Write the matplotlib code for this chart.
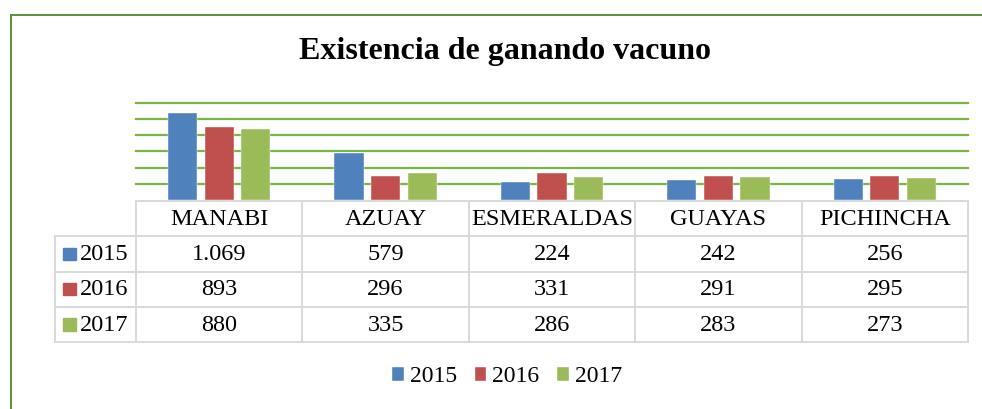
import numpy as np
import matplotlib.pyplot as plt
from matplotlib.patches import Rectangle
from matplotlib.lines import Line2D

plt.rcParams['font.family'] = ['Liberation Serif', 'DejaVu Serif']

# data
provincias = ['MANABI', 'AZUAY', 'ESMERALDAS', 'GUAYAS', 'PICHINCHA']
anios = ['2015', '2016', '2017']
v2015 = [1069, 579, 224, 242, 256]
v2016 = [893, 296, 331, 291, 295]
v2017 = [880, 335, 286, 283, 273]
series = [v2015, v2016, v2017]
colores = ['#4F81BD', '#C0504D', '#9BBB59']


def fmt(v):
    # formato con punto de miles
    return '{:,}'.format(v).replace(',', '.')


W, H = 982, 409
fig = plt.figure(figsize=(W / 100, H / 100), dpi=100)

# borde verde del grafico (solo izquierda y arriba se ven)
bx, by = 10.5 / W, 1 - 14.5 / H
fig.add_artist(Line2D([bx, bx], [0, by], transform=fig.transFigure, color='#5E8F3C', lw=1.4,
                      solid_capstyle='projecting'))
fig.add_artist(Line2D([bx, 1], [by, by], transform=fig.transFigure, color='#5E8F3C', lw=1.4,
                      solid_capstyle='projecting'))

fig.text(505 / W, 1 - 52 / H, 'Existencia de ganando vacuno', ha='center', va='center',
         fontsize=23, fontweight='bold')

# area de barras
x0, x1 = 136, 968
ax = fig.add_axes([x0 / W, 1 - 200 / H, (x1 - x0) / W, 97.5 / H])
x = np.arange(len(provincias))
bw = 0.175
gap = 0.045
for i, (vals, c) in enumerate(zip(series, colores)):
    ax.bar(x + (i - 1) * (bw + gap), vals, width=bw, color=c, zorder=3,
           edgecolor='white', linewidth=0.3, label=anios[i])
for g in range(200, 1201, 200):
    ax.axhline(g, color='#77B843', linewidth=1.6, zorder=1, clip_on=False)
ax.set_xlim(-0.5, 4.5)
ax.set_ylim(0, 1200)
ax.axis('off')

# tabla de datos
cat_px = (x1 - x0) / 5
lab_w = 81 / cat_px
tx0 = -0.5 - lab_w
t_left = x0 - 81
tax = fig.add_axes([t_left / W, 1 - 342 / H, (x1 - t_left) / W, 141 / H])
tax.set_xlim(tx0, 4.5)
tax.set_ylim(4, 0)
tax.axis('off')
lc = '#D9D9D9'
lw = 1.4
tax.plot([-0.5, 4.5], [0, 0], color=lc, lw=lw, clip_on=False)
for r in range(1, 5):
    tax.plot([tx0, 4.5], [r, r], color=lc, lw=lw, clip_on=False)
for b in np.arange(-0.5, 4.6, 1):
    tax.plot([b, b], [0, 4], color=lc, lw=lw, clip_on=False)
tax.plot([tx0, tx0], [1, 4], color=lc, lw=lw, clip_on=False)

fs = 17.5
for j, p in enumerate(provincias):
    tax.text(j, 0.52, p, ha='center', va='center', fontsize=fs)
for i, (vals, c) in enumerate(zip(series, colores)):
    r = i + 1.52
    tax.add_patch(Rectangle((tx0 + 8 / cat_px, i + 1.5 - 0.18), 13 / cat_px, 0.36,
                            color=c, clip_on=False))
    tax.text(tx0 + 25 / cat_px, r, anios[i], ha='left', va='center', fontsize=fs)
    for j, v in enumerate(vals):
        tax.text(j, r, fmt(v), ha='center', va='center', fontsize=fs)

# leyenda inferior
fig.legend(*ax.get_legend_handles_labels(), loc='center', bbox_to_anchor=(507 / W, 1 - 377 / H),
           ncol=3, frameon=False, fontsize=17, handlelength=0.5, handleheight=0.5,
           handletextpad=0.25, columnspacing=0.75)

fig.savefig('out.png', dpi=100)
